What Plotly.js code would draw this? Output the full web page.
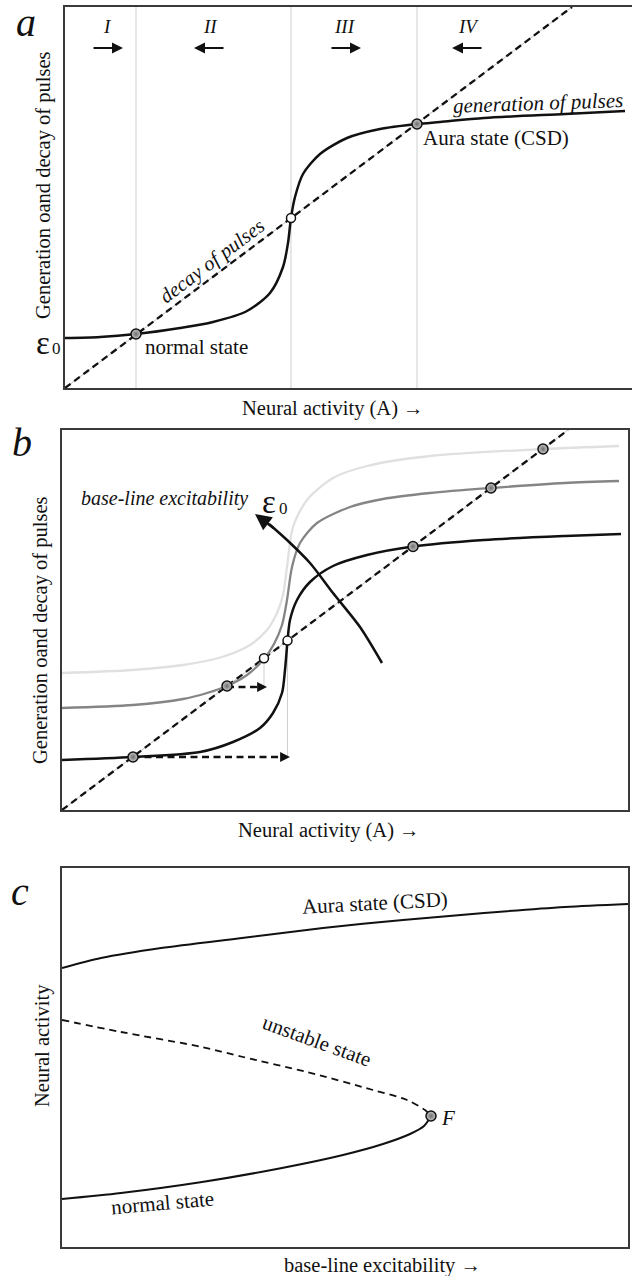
<!DOCTYPE html>
<html>
<head>
<meta charset="utf-8">
<script src="https://cdn.plot.ly/plotly-3.0.1.min.js"></script>
<style>html,body{margin:0;padding:0;background:#fff;}#chart{width:632px;height:1276px;}</style>
</head>
<body>
<div id="chart"></div>
<script>
// ---------------- Panel a data (arbitrary units) ----------------
const aGenX = [0, 35, 71, 115, 148, 182, 205, 218, 223, 226, 230, 238, 255, 282, 315, 352, 375, 419, 500, 560];
const aGenY = [50, 51, 54, 60, 66, 77, 95, 121, 145, 170, 191, 214, 234, 250, 259, 264, 266, 270, 274, 277];
const aDecayX = [0, 507];
const aDecayY = [0, 381];
const aStableX = [71, 352];
const aStableY = [54, 264];
const aUnstableX = [226];
const aUnstableY = [170];
const aRegionBounds = [71, 226, 352];
const aRegionLabels = ['I', 'II', 'III', 'IV'];
const aRegionCenters = [42, 145, 280, 403];
const aFlowDir = [1, -1, 1, -1];

// ---------------- Panel b data ----------------
const bBlackX = [0, 71, 138, 171, 198, 211, 220, 223, 225.5, 228, 235, 248, 271, 305, 351, 422, 503, 559];
const bBlackY = [50, 53, 58, 68, 82, 97, 117, 140, 169, 190, 210, 228, 244, 255, 263.5, 270, 274, 276];
const bGrayX = [0, 71, 121, 145, 165, 185, 202, 212, 220, 225, 230, 238, 255, 288, 321, 368, 429, 503, 557];
const bGrayY = [102, 105, 111, 117, 124, 135, 151, 166, 185, 210, 243, 267, 287, 303, 311, 317, 322, 327, 329];
const bLightX = [0, 71, 121, 160, 188, 205, 215, 221, 225, 231, 245, 271, 305, 368, 481, 557];
const bLightY = [137, 140, 145, 153, 165, 180, 197, 215, 243, 283, 310, 332, 344, 354, 361, 364];
const bDecayX = [0, 506];
const bDecayY = [0, 380];
const bStableX = [71, 165, 351, 429, 481];
const bStableY = [53, 124, 263.5, 322, 361];
const bUnstableX = [202, 225.5];
const bUnstableY = [151.7, 169.4];
const bShiftFromX = [71, 165];
const bShiftToX = [228, 205];
const bShiftY = [53, 123];
const bArrowX = [320, 298, 271, 248, 225, 207];
const bArrowY = [147, 183, 217, 247, 270, 286];
const bArrowTip = [193, 296];

// ---------------- Panel c data ----------------
const cAuraX = [0, 39, 99, 180, 261, 341, 422, 503, 566];
const cAuraY = [279, 289, 299, 309, 319, 327, 334, 340, 343];
const cUnstX = [0, 59, 140, 181, 245, 311, 345, 363, 369];
const cUnstY = [227, 215, 200, 190, 175, 157, 147, 137, 131];
const cNormX = [0, 59, 140, 220, 281, 321, 348, 362, 369];
const cNormY = [48, 54, 65, 79, 92, 103, 113, 121, 131];
const cFoldX = [369];
const cFoldY = [131];

// ---------------- helpers ----------------
const W = 632, H = 1276;
const PX = p => p / W;
const PY = p => 1 - p / H;
const SERIF = '"Liberation Serif", "Times New Roman", Times, serif';

const stableMarker = {size: 10, color: '#c8c8c8', gradient: {type: 'radial', color: '#6e6e6e'}, line: {color: '#111', width: 1.5}};
const unstableMarker = {size: 9, color: '#ffffff', line: {color: '#111', width: 1.5}};

const traces = [];
function line(x, y, xa, ya, color, width, dash, shape) {
  traces.push({x, y, xaxis: xa, yaxis: ya, mode: 'lines', hoverinfo: 'skip',
    line: {color, width, dash: dash || 'solid', shape: shape || 'linear', smoothing: 0.8}});
}
function pts(x, y, xa, ya, marker) {
  traces.push({x, y, xaxis: xa, yaxis: ya, mode: 'markers', hoverinfo: 'skip', marker, cliponaxis: false});
}

// Panel a
{
  const vx = [], vy = [];
  aRegionBounds.forEach(b => { vx.push(b, b, null); vy.push(0, 381, null); });
  line(vx, vy, 'x', 'y', '#cfcfcf', 1);
  line(aDecayX, aDecayY, 'x', 'y', '#c4c4c4', 1);
  line(aDecayX, aDecayY, 'x', 'y', '#111', 2.3, '7px,4.5px');
  line(aGenX, aGenY, 'x', 'y', '#111', 2.5, 'solid', 'spline');
  pts(aStableX, aStableY, 'x', 'y', stableMarker);
  pts(aUnstableX, aUnstableY, 'x', 'y', unstableMarker);
}
// Panel b
{
  line([225.5, 225.5, null, 202, 202], [bShiftY[0], bUnstableY[1], null, bShiftY[1], bUnstableY[0]], 'x2', 'y2', '#cfcfcf', 1);
  line(bDecayX, bDecayY, 'x2', 'y2', '#c4c4c4', 1);
  line(bDecayX, bDecayY, 'x2', 'y2', '#111', 2.3, '7px,4.5px');
  line(bLightX, bLightY, 'x2', 'y2', '#e0e0e0', 2.3, 'solid', 'spline');
  line(bGrayX, bGrayY, 'x2', 'y2', '#858585', 2.3, 'solid', 'spline');
  line(bBlackX, bBlackY, 'x2', 'y2', '#111', 2.5, 'solid', 'spline');
  const hx = [], hy = [];
  bShiftFromX.forEach((f, i) => { hx.push(f, bShiftToX[i] - 8, null); hy.push(bShiftY[i], bShiftY[i], null); });
  line(hx, hy, 'x2', 'y2', '#111', 2.3, '7px,4.5px');
  line(bArrowX, bArrowY, 'x2', 'y2', '#111', 2.5, 'solid', 'spline');
  pts(bStableX, bStableY, 'x2', 'y2', stableMarker);
  pts(bUnstableX, bUnstableY, 'x2', 'y2', unstableMarker);
}
// Panel c
{
  line(cAuraX, cAuraY, 'x3', 'y3', '#111', 2, 'solid', 'spline');
  line(cUnstX, cUnstY, 'x3', 'y3', '#111', 1.8, '7px,5px', 'spline');
  line(cNormX, cNormY, 'x3', 'y3', '#111', 2, 'solid', 'spline');
  pts(cFoldX, cFoldY, 'x3', 'y3', stableMarker);
}

// ---------------- annotations ----------------
const ann = [];
function txt(text, x, y, opts) {
  opts = opts || {};
  ann.push({
    text, x, y, xref: opts.xref || 'paper', yref: opts.yref || 'paper', showarrow: false,
    xanchor: opts.xanchor || 'center', yanchor: opts.yanchor || 'middle',
    textangle: opts.angle || 0,
    font: {family: SERIF, size: opts.size || 20.5, color: '#111'}
  });
}
function arrow(x, y, ax, ay, xr, yr, size, width) {
  ann.push({text: '', x, y, ax, ay, xref: xr, yref: yr, axref: xr, ayref: yr, showarrow: true,
    arrowhead: 2, arrowsize: size, arrowwidth: width, arrowcolor: '#111', standoff: 0, startstandoff: 0});
}

// panel labels
txt('<i>a</i>', PX(26), PY(22), {size: 40});
txt('<i>b</i>', PX(22), PY(443), {size: 40});
txt('<i>c</i>', PX(20), PY(891), {size: 40});

// axis titles
txt('Generation oand decay of pulses', PX(43), PY(185), {angle: -90});
txt('Neural activity (A) →', PX(240), PY(408), {xanchor: 'left'});
txt('Generation oand decay of pulses', PX(40), PY(630), {angle: -90});
txt('Neural activity (A) →', PX(236), PY(830), {xanchor: 'left'});
txt('Neural activity', PX(42), PY(1045), {angle: -90});
txt('base-line excitability →', PX(282), PY(1265), {xanchor: 'left'});

// panel a texts
aRegionLabels.forEach((l, i) => {
  txt('<i>' + l + '</i>', aRegionCenters[i], 361, {xref: 'x', yref: 'y', size: 19});
  const d = aFlowDir[i];
  arrow(aRegionCenters[i] + d * 16, 340, aRegionCenters[i] - d * 15, 340, 'x', 'y', 1.0, 2.2);
});
txt('<i>decay of pulses</i>', 147, 126, {xref: 'x', yref: 'y', angle: -37, size: 20.5});
txt('<i>generation of pulses</i>', 473, 285, {xref: 'x', yref: 'y', angle: -2, size: 21});
txt('Aura state (CSD)', 431, 250, {xref: 'x', yref: 'y', size: 21});
txt('normal state', 131, 41, {xref: 'x', yref: 'y', size: 21});
txt('ε', PX(43), PY(343), {size: 33});
txt('0', PX(56.5), PY(349), {size: 17});

// panel b texts
txt('<i>base-line excitability</i>', PX(250), PY(498), {xanchor: 'right', size: 20});
txt('ε', PX(269), PY(502), {size: 33});
txt('0', PX(283.5), PY(509), {size: 17});
bShiftFromX.forEach((f, i) => arrow(bShiftToX[i], bShiftY[i], bShiftToX[i] - 10, bShiftY[i], 'x2', 'y2', 0.9, 2.2));
arrow(bArrowTip[0], bArrowTip[1], bArrowX[bArrowX.length - 1] + 6, bArrowY[bArrowY.length - 1] - 5, 'x2', 'y2', 1.3, 2.5);

// panel c texts
txt('Aura state (CSD)', 313, 344, {xref: 'x3', yref: 'y3', angle: -3, size: 21});
txt('unstable state', 255, 206, {xref: 'x3', yref: 'y3', angle: 20, size: 21});
txt('normal state', 100, 44, {xref: 'x3', yref: 'y3', angle: -5, size: 21});
txt('<i>F</i>', 386, 129, {xref: 'x3', yref: 'y3', size: 21});

// ---------------- layout ----------------
function ax(domain, range, mirror, anchor) {
  return {domain, range, anchor, showgrid: false, zeroline: false, showticklabels: false, ticks: '',
    showline: true, mirror, linecolor: '#3a3a3a', linewidth: 1.6, fixedrange: true};
}
const layout = {
  width: W, height: H, margin: {l: 0, r: 0, t: 0, b: 0},
  paper_bgcolor: '#fff', plot_bgcolor: '#fff', showlegend: false,
  font: {family: SERIF, size: 20.5, color: '#111'},
  xaxis: ax([PX(65), 1], [0, 567], true, 'y'),
  yaxis: ax([PY(388), PY(7)], [0, 381], false, 'x'),
  xaxis2: ax([PX(62), PX(628)], [0, 566], true, 'y2'),
  yaxis2: ax([PY(810), PY(430)], [0, 380], true, 'x2'),
  xaxis3: ax([PX(62), PX(628)], [0, 566], true, 'y3'),
  yaxis3: ax([PY(1247), PY(868)], [0, 379], true, 'x3'),
  annotations: ann
};

Plotly.newPlot('chart', traces, layout, {staticPlot: true, displayModeBar: false});
</script>
</body>
</html>
